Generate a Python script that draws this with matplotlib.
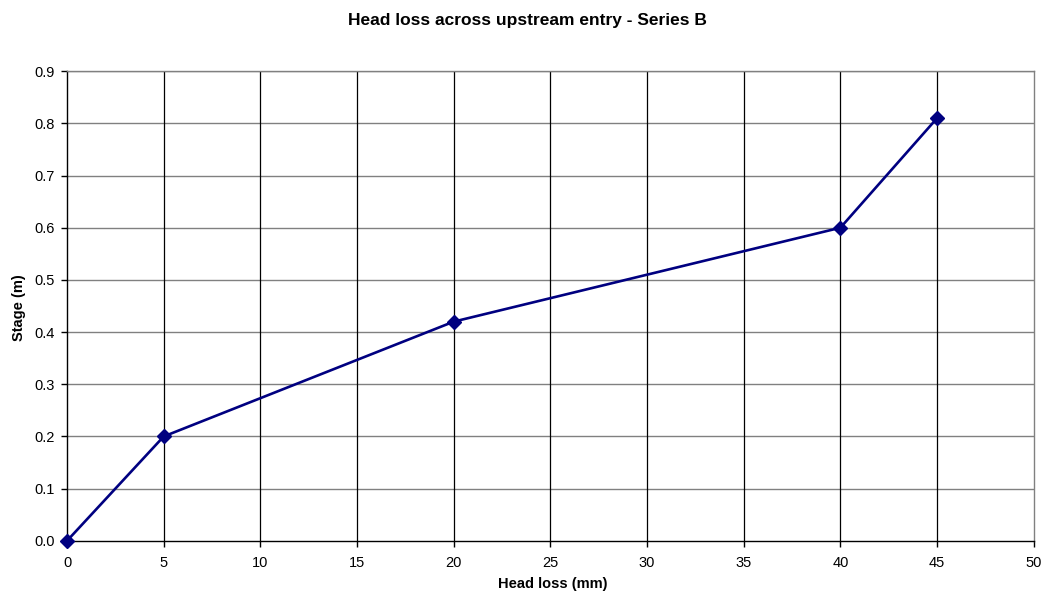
import matplotlib
matplotlib.use('Agg')
from matplotlib import pyplot as plt

plt.rcParams['font.family'] = ['Liberation Sans', 'DejaVu Sans']

head_loss = [0, 5, 20, 40, 45]
stage = [0.0, 0.2, 0.42, 0.6, 0.81]
x_ticks = [0, 5, 10, 15, 20, 25, 30, 35, 40, 45, 50]
y_ticks = [0.0, 0.1, 0.2, 0.3, 0.4, 0.5, 0.6, 0.7, 0.8, 0.9]

fig = plt.figure(figsize=(10.44, 5.93), dpi=100)
ax = fig.add_axes([0.0642, 0.088, 0.926, 0.792])

ax.set_xlim(0, 50)
ax.set_ylim(0, 0.9)
ax.set_xticks(x_ticks)
ax.set_yticks(y_ticks)
ax.set_xticklabels([str(x) for x in x_ticks])
ax.set_yticklabels([f'{y:.1f}' for y in y_ticks])

for y in y_ticks[1:]:
    ax.axhline(y, color='#808080', linewidth=1.0, zorder=1)
for x in x_ticks[1:-1]:
    ax.axvline(x, color='black', linewidth=0.9, zorder=1)

ax.spines['top'].set_color('#808080')
ax.spines['right'].set_color('#808080')
ax.spines['left'].set_color('black')
ax.spines['bottom'].set_color('black')
for s in ax.spines.values():
    s.set_linewidth(1.0)

ax.tick_params(direction='out', length=4, width=1.0, labelsize=10.5, pad=5)
ax.tick_params(axis='x', pad=7)

ax.plot(head_loss, stage, color='#000080', linewidth=1.9, marker='D',
        markersize=7.2, clip_on=False, zorder=3)

fig.text(0.505, 0.966, 'Head loss across upstream entry - Series B', ha='center', va='center',
         fontsize=12.5, fontweight='bold')
# kept just inside the bottom edge so the label is not clipped
fig.text(0.529, 0.008, 'Head loss (mm)', ha='center', va='baseline', fontsize=10.5, fontweight='bold')
fig.text(0.018, 0.482, 'Stage (m)', ha='center', va='center', rotation=90, fontsize=10.5, fontweight='bold')

fig.savefig('out.png', dpi=100)
